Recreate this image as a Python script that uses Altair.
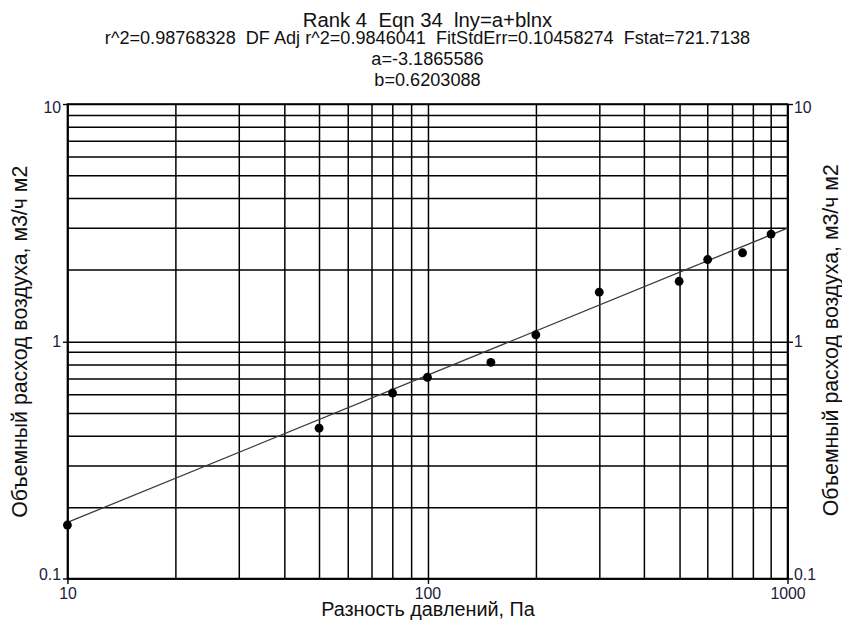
import altair as alt
import pandas as pd

# ---- data ----
x_vals = [10, 50, 80, 100, 150, 200, 300, 500, 600, 750, 900]
y_vals = [0.168, 0.43, 0.605, 0.705, 0.815, 1.065, 1.61, 1.79, 2.21, 2.36, 2.83]

# fit parameters (lny = a + b lnx), from the chart title
coef_a = -3.1865586
coef_b = 0.6203088
fit_x = [10, 1000]

x_grid = [10, 20, 30, 40, 50, 60, 70, 80, 90, 100, 200, 300, 400, 500, 600, 700, 800, 900, 1000]
y_grid = [0.1, 0.2, 0.3, 0.4, 0.5, 0.6, 0.7, 0.8, 0.9, 1, 2, 3, 4, 5, 6, 7, 8, 9, 10]
x_labels = [10, 100, 1000]
y_labels = [0.1, 1, 10]

title_text = "Rank 4\u00a0 Eqn 34\u00a0 lny=a+blnx"
subtitle_lines = [
    "r^2=0.98768328\u00a0 DF Adj r^2=0.9846041\u00a0 FitStdErr=0.10458274\u00a0 Fstat=721.7138",
    "a=-3.1865586",
    "b=0.6203088",
]
x_title = "Разность давлений, Па"
y_title = "Объемный расход воздуха, м3/ч м2"

FONT = "Liberation Sans"
LABEL_COLOR = "#20203a"

df = pd.DataFrame({"x": x_vals, "y": y_vals})
fit_df = pd.DataFrame({"x": fit_x})


def label_expr(vals):
    parts = " : ".join(f"datum.value == {v} ? '{v}'" for v in vals)
    return parts + " : ''"


def major_test(vals):
    return "indexof([" + ",".join(str(v) for v in vals) + "], datum.value) >= 0"


xscale = alt.Scale(type="log", domain=[10, 1000], nice=False)
yscale = alt.Scale(type="log", domain=[0.1, 10], nice=False)

x_axis = alt.Axis(
    values=x_grid,
    grid=True,
    labelExpr=label_expr(x_labels),
    labelOverlap=False,
    labelFlush=False,
    tickOpacity={"condition": {"test": major_test(x_labels), "value": 1}, "value": 0},
    tickSize=5,
    labelPadding=2,
    titlePadding=-2,
    titleFontSize=20,
    title=x_title,
    orient="bottom",
)

y_axis_left = alt.Axis(
    values=y_grid,
    grid=True,
    labelExpr=label_expr(y_labels),
    labelOverlap=False,
    labelFlush=True,
    labelFlushOffset=4,
    tickOpacity={"condition": {"test": major_test(y_labels), "value": 1}, "value": 0},
    tickSize=5,
    labelPadding=2,
    titlePadding=7,
    title=y_title,
    orient="left",
)

y_axis_right = alt.Axis(
    values=y_labels,
    grid=False,
    labelExpr=label_expr(y_labels),
    labelOverlap=False,
    labelFlush=True,
    labelFlushOffset=4,
    tickSize=5,
    labelPadding=1,
    title=y_title,
    titleAngle=270,
    titleBaseline="top",
    titleX=33,
    titleY=238,
    orient="right",
)

line = (
    alt.Chart(fit_df)
    .transform_calculate(y=f"exp({coef_a}) * pow(datum.x, {coef_b})")
    .mark_line(color="#3a3a3a", strokeWidth=1.3)
    .encode(
        x=alt.X("x:Q", scale=xscale, axis=x_axis),
        y=alt.Y("y:Q", scale=yscale, axis=y_axis_right),
    )
)

points = (
    alt.Chart(df)
    .mark_circle(size=80, color="black", opacity=1)
    .encode(
        x=alt.X("x:Q", scale=xscale, axis=x_axis),
        y=alt.Y("y:Q", scale=yscale, axis=y_axis_left),
    )
)

chart = (
    alt.layer(line, points)
    .resolve_axis(y="independent")
    .properties(
        width=727,
        height=479,
        autosize=alt.AutoSizeParams(type="none"),
        padding={"left": 60, "top": 94, "right": 55, "bottom": 41},
        title=alt.TitleParams(
            text=title_text,
            subtitle=subtitle_lines,
            font=FONT,
            fontSize=20.5,
            fontWeight="normal",
            color="#111111",
            subtitleFont=FONT,
            subtitleFontSize=18.3,
            subtitleColor="#111111",
            subtitleLineHeight=21,
            subtitlePadding=-1,
            anchor="middle",
            offset=11,
        ),
    )
    .configure_view(stroke="black", strokeWidth=1.6)
    .configure_axis(
        domainColor="black",
        domainWidth=1.6,
        gridColor="black",
        gridWidth=1.5,
        gridOpacity=1,
        tickColor="black",
        tickWidth=1.4,
        labelFont=FONT,
        labelFontSize=16,
        labelColor=LABEL_COLOR,
        titleFont=FONT,
        titleFontSize=21.5,
        titleFontWeight="normal",
        titleColor="#111111",
    )
)

chart.save("out.html", embed_options={"renderer": "svg", "actions": False})
